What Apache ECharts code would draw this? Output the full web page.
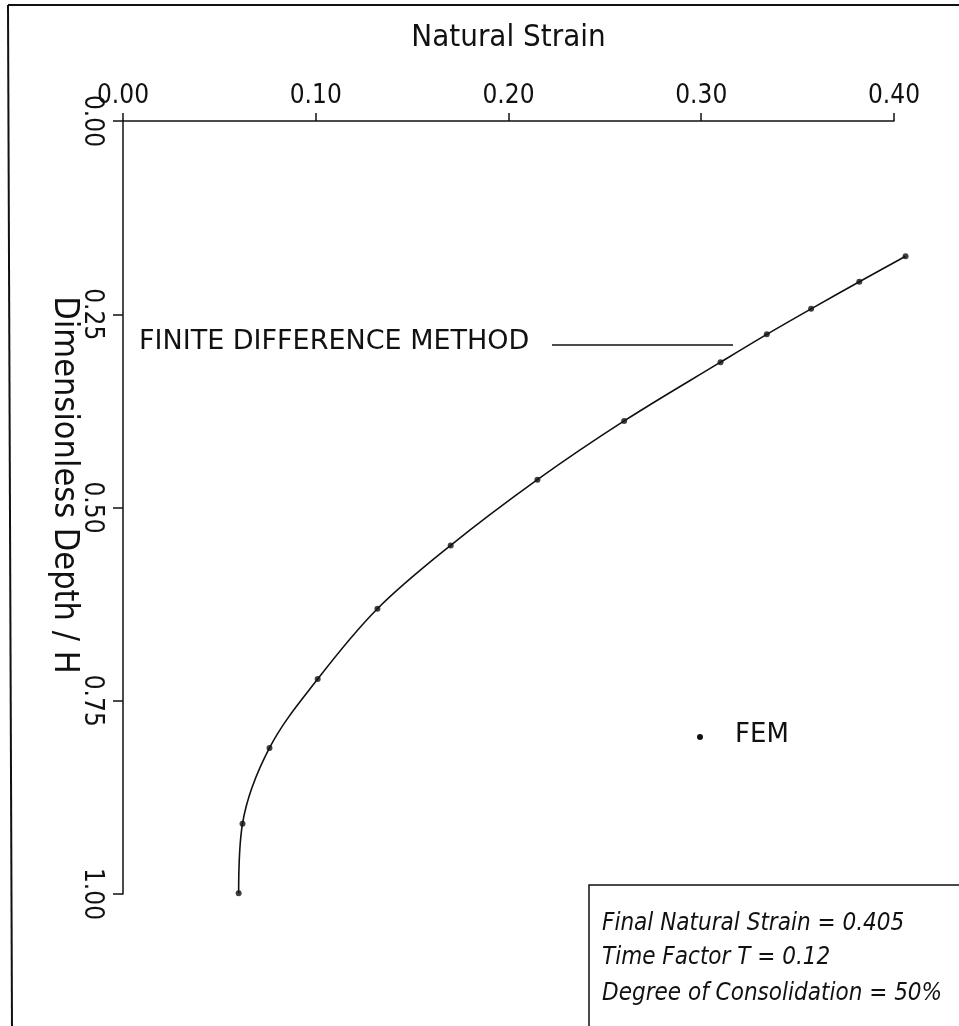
<!DOCTYPE html>
<html>
<head>
<meta charset="utf-8">
<script src="https://cdn.jsdelivr.net/npm/echarts@6/dist/echarts.min.js"></script>
<style>
html,body{margin:0;padding:0;background:#fff;}
#c{width:959px;height:1026px;}
</style>
</head>
<body>
<div id="c"></div>
<script>
// Data
var strain = [0.406, 0.382, 0.357, 0.334, 0.310, 0.260, 0.215, 0.170, 0.132, 0.101, 0.076, 0.062, 0.060];
var depth  = [0.175, 0.208, 0.243, 0.276, 0.312, 0.388, 0.464, 0.549, 0.631, 0.722, 0.811, 0.909, 0.999];
var xTicks = [0.00, 0.10, 0.20, 0.30, 0.40];
var yTicks = [0.00, 0.25, 0.50, 0.75, 1.00];
var xTitle = 'Natural Strain';
var yTitle = 'Dimensionless Depth / H';
var curveLabel = 'FINITE DIFFERENCE METHOD';
var pointLabel = 'FEM';
var infoLines = ['Final Natural Strain = 0.405', 'Time Factor T = 0.12', 'Degree of Consolidation = 50%'];

var narrow = "'Liberation Sans Narrow','DejaVu Sans Condensed','Liberation Sans',sans-serif";
var sans = "'DejaVu Sans','Liberation Sans',sans-serif";

var pts = strain.map(function (s, i) { return [s, depth[i]]; });

// visible axis frame spans 0..0.40; a hidden twin grid spans 0..0.42 on the same scale
var gLeft = 123, gTop = 121, gW = 771, gH = 773;
var xMax = 0.4, xMaxWide = 0.42;

var chart = echarts.init(document.getElementById('c'), null, {renderer: 'canvas'});
chart.setOption({
  backgroundColor: '#fff',
  animation: false,
  grid: [
    {left: gLeft, top: gTop, width: gW, height: gH, containLabel: false},
    {left: gLeft, top: gTop, width: gW * xMaxWide / xMax, height: gH, containLabel: false}
  ],
  xAxis: [{
    gridIndex: 0, type: 'value', position: 'top', min: 0, max: xMax, interval: 0.1,
    name: xTitle, nameLocation: 'middle', nameGap: 68,
    nameTextStyle: {fontFamily: narrow, fontSize: 31, color: '#111'},
    axisLine: {show: true, onZero: false, lineStyle: {color: '#111', width: 1.5}},
    axisTick: {show: true, inside: false, length: 8, lineStyle: {color: '#111', width: 1.5}},
    axisLabel: {fontFamily: narrow, fontSize: 26, color: '#111', margin: 12,
      formatter: function (v) { return v.toFixed(2); }},
    splitLine: {show: false}
  }, {
    gridIndex: 1, type: 'value', position: 'top', min: 0, max: xMaxWide, show: false
  }],
  yAxis: [{
    gridIndex: 0, type: 'value', inverse: true, min: 0, max: 1, interval: 0.25,
    axisLine: {show: true, onZero: false, lineStyle: {color: '#111', width: 1.5}},
    axisTick: {show: true, inside: false, length: 10, lineStyle: {color: '#111', width: 1.5}},
    axisLabel: {fontFamily: narrow, fontSize: 26, color: '#111', margin: 18, rotate: -90,
      formatter: function (v) { return v.toFixed(2); }},
    splitLine: {show: false}
  }, {
    gridIndex: 1, type: 'value', inverse: true, min: 0, max: 1, show: false
  }],
  series: [
    {
      type: 'line', xAxisIndex: 1, yAxisIndex: 1, data: pts, smooth: 0.35, symbol: 'none',
      lineStyle: {color: '#111', width: 1.6}, z: 2
    },
    {
      type: 'scatter', xAxisIndex: 1, yAxisIndex: 1, data: pts, symbol: 'circle', symbolSize: 6,
      itemStyle: {color: '#111'}, z: 3
    }
  ],
  graphic: [
    {type: 'line', shape: {x1: 8, y1: 5, x2: 959, y2: 5}, style: {stroke: '#111', lineWidth: 2}},
    {type: 'line', shape: {x1: 8, y1: 5, x2: 12, y2: 1026}, style: {stroke: '#111', lineWidth: 2}},
    {type: 'text', x: 64, y: 485, rotation: -Math.PI / 2,
      style: {text: yTitle, font: '34px ' + narrow, fill: '#111', textAlign: 'center', textVerticalAlign: 'middle'}},
    {type: 'text', left: 139, top: 328,
      style: {text: curveLabel, font: '27px ' + sans, fill: '#111'}},
    {type: 'line', shape: {x1: 552, y1: 345, x2: 733, y2: 345}, style: {stroke: '#111', lineWidth: 1.5}},
    {type: 'circle', shape: {cx: 700, cy: 737, r: 3}, style: {fill: '#111'}},
    {type: 'text', left: 735, top: 722,
      style: {text: pointLabel, font: '26px ' + sans, fill: '#111'}},
    {type: 'rect', shape: {x: 589, y: 885, width: 400, height: 200}, style: {fill: 'none', stroke: '#111', lineWidth: 1.5}},
    {type: 'text', left: 602, top: 912,
      style: {text: infoLines[0], font: 'italic 24px ' + narrow, fill: '#111'}},
    {type: 'text', left: 602, top: 946,
      style: {text: infoLines[1], font: 'italic 24px ' + narrow, fill: '#111'}},
    {type: 'text', left: 602, top: 982,
      style: {text: infoLines[2], font: 'italic 24px ' + narrow, fill: '#111'}}
  ]
});
</script>
</body>
</html>
